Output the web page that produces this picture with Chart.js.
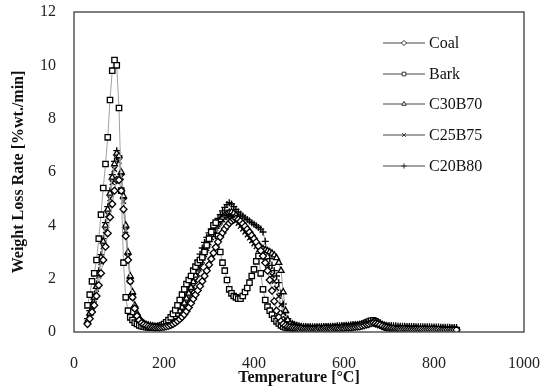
<!DOCTYPE html>
<html>
<head>
<meta charset="utf-8">
<script src="https://cdn.jsdelivr.net/npm/chart.js@4.4.0/dist/chart.umd.min.js"></script>
<style>
  html, body { margin: 0; padding: 0; background: #fff; }
  #wrap { width: 542px; height: 387px; }
</style>
</head>
<body>
<div id="wrap"><canvas id="dtgChart" width="542" height="387"></canvas></div>
<script>
// temperature points (°C)
const temps = [
  30, 35, 40, 45, 50, 55, 60, 65, 70, 75,
  80, 85, 90, 95, 100, 105, 110, 115, 120, 125,
  130, 135, 140, 145, 150, 155, 160, 165, 170, 175,
  180, 185, 190, 195, 200, 205, 210, 215, 220, 225,
  230, 235, 240, 245, 250, 255, 260, 265, 270, 275,
  280, 285, 290, 295, 300, 305, 310, 315, 320, 325,
  330, 335, 340, 345, 350, 355, 360, 365, 370, 375,
  380, 385, 390, 395, 400, 405, 410, 415, 420, 425,
  430, 435, 440, 445, 450, 455, 460, 465, 470, 475,
  480,
  485, 490, 495, 500, 505, 510, 515, 520, 525, 530,
  535, 540, 545, 550, 555, 560, 565, 570, 575, 580,
  585, 590, 595, 600, 605, 610, 615, 620, 625, 630,
  635, 640, 645, 650, 655, 660, 665, 670, 675, 680,
  685, 690, 695, 700, 705, 710, 715, 720, 725, 730,
  735, 740, 745, 750, 755, 760, 765, 770, 775, 780,
  785, 790, 795, 800, 805, 810, 815, 820, 825, 830,
  835, 840, 845, 850
];

const coal = [
  0.3, 0.5, 0.75, 1.0, 1.35, 1.75, 2.2, 2.7, 3.2, 3.7,
  4.3, 4.8, 5.3, 5.7, 5.7, 5.3, 4.6, 3.6, 2.7, 1.9,
  1.3, 0.88, 0.6, 0.44, 0.34, 0.28, 0.24, 0.21, 0.19, 0.18,
  0.17, 0.17, 0.17, 0.18, 0.19, 0.21, 0.23, 0.26, 0.3, 0.35,
  0.41, 0.48, 0.56, 0.66, 0.78, 0.92, 1.08, 1.24, 1.4, 1.56,
  1.72, 1.9, 2.1, 2.3, 2.52, 2.74, 2.96, 3.18, 3.38, 3.56,
  3.72, 3.86, 3.98, 4.08, 4.16, 4.22, 4.25, 4.22, 4.15, 4.06,
  3.96, 3.85, 3.74, 3.62, 3.5, 3.37, 3.22, 3.05, 2.85, 2.6,
  2.3, 1.95, 1.55, 1.15, 0.8, 0.55, 0.4, 0.3, 0.24, 0.2,
  0.18,
  0.16, 0.15, 0.14, 0.13, 0.13, 0.12, 0.12, 0.12, 0.12, 0.12,
  0.12, 0.12, 0.13, 0.12, 0.13, 0.13, 0.13, 0.13, 0.14, 0.14,
  0.14, 0.14, 0.15, 0.15, 0.16, 0.16, 0.17, 0.18, 0.19, 0.2,
  0.21, 0.23, 0.25, 0.28, 0.3, 0.33, 0.34, 0.32, 0.29, 0.26,
  0.22, 0.19, 0.17, 0.15, 0.14, 0.13, 0.12, 0.12, 0.11, 0.11,
  0.11, 0.1, 0.1, 0.1, 0.1, 0.1, 0.1, 0.1, 0.09, 0.09,
  0.09, 0.09, 0.09, 0.09, 0.09, 0.09, 0.08, 0.08, 0.08, 0.08,
  0.08, 0.08, 0.08, 0.08
];

const bark = [
  1.0, 1.4, 1.9, 2.2, 2.7, 3.5, 4.4, 5.4, 6.3, 7.3,
  8.7, 9.8, 10.2, 10.0, 8.4, 5.3, 2.6, 1.3, 0.8, 0.55,
  0.45, 0.35, 0.3, 0.25, 0.22, 0.2, 0.18, 0.17, 0.16, 0.16,
  0.17, 0.18, 0.2, 0.24, 0.3, 0.36, 0.45, 0.55, 0.68, 0.82,
  1.0, 1.2, 1.4, 1.6, 1.8, 1.95, 2.1, 2.3, 2.45, 2.6,
  2.7, 2.8, 3.0, 3.25, 3.5, 3.75, 4.0, 4.1, 3.6, 3.0,
  2.6, 2.3, 1.95, 1.6, 1.45, 1.35, 1.3, 1.25, 1.25, 1.35,
  1.5, 1.65, 1.85, 2.1, 2.35, 2.65, 2.85, 2.2, 1.6, 1.2,
  0.95, 0.8, 0.65, 0.5, 0.4, 0.32, 0.25, 0.2, 0.17, 0.15,
  0.14,
  0.14, 0.13, 0.13, 0.12, 0.12, 0.11, 0.12, 0.11, 0.12, 0.11,
  0.12, 0.12, 0.13, 0.12, 0.13, 0.12, 0.13, 0.13, 0.14, 0.14,
  0.15, 0.15, 0.16, 0.17, 0.18, 0.19, 0.2, 0.21, 0.22, 0.23,
  0.25, 0.28, 0.31, 0.35, 0.39, 0.42, 0.44, 0.4, 0.35, 0.3,
  0.25, 0.2, 0.17, 0.15, 0.13, 0.12, 0.12, 0.11, 0.11, 0.1,
  0.1, 0.1, 0.09, 0.09, 0.09, 0.09, 0.08, 0.08, 0.08, 0.08,
  0.08, 0.08, 0.07, 0.07, 0.07, 0.07, 0.07, 0.07, 0.06, 0.06,
  0.06, 0.06, 0.06, 0.06
];

const c30b70 = [
  0.4, 0.7, 1.0, 1.3, 1.7, 2.2, 2.8, 3.4, 4.0, 4.6,
  5.2, 5.8, 6.3, 6.7, 6.6, 6.0, 5.1, 4.0, 3.0, 2.1,
  1.5, 1.0, 0.7, 0.5, 0.4, 0.33, 0.28, 0.25, 0.23, 0.21,
  0.2, 0.2, 0.21, 0.22, 0.25, 0.28, 0.33, 0.39, 0.47, 0.56,
  0.66, 0.78, 0.92, 1.08, 1.26, 1.45, 1.66, 1.88, 2.12, 2.36,
  2.6, 2.84, 3.06, 3.27, 3.46, 3.64, 3.8, 3.95, 4.08, 4.2,
  4.3, 4.38, 4.44, 4.48, 4.5, 4.46, 4.38, 4.28, 4.16, 4.04,
  3.92, 3.8, 3.68, 3.56, 3.45, 3.35, 3.26, 3.18, 3.12, 3.08,
  3.04, 3.0, 2.95, 2.88, 2.78, 2.6, 2.3, 1.5, 0.8, 0.45,
  0.3,
  0.25, 0.22, 0.2, 0.18, 0.17, 0.16, 0.16, 0.15, 0.15, 0.15,
  0.15, 0.15, 0.15, 0.16, 0.16, 0.16, 0.17, 0.17, 0.17, 0.17,
  0.18, 0.18, 0.19, 0.19, 0.2, 0.21, 0.22, 0.23, 0.24, 0.25,
  0.26, 0.28, 0.3, 0.32, 0.35, 0.37, 0.36, 0.34, 0.31, 0.28,
  0.25, 0.22, 0.19, 0.18, 0.16, 0.15, 0.15, 0.14, 0.14, 0.14,
  0.14, 0.13, 0.13, 0.13, 0.13, 0.13, 0.12, 0.12, 0.12, 0.12,
  0.12, 0.12, 0.12, 0.11, 0.11, 0.11, 0.11, 0.11, 0.11, 0.1,
  0.1, 0.1, 0.1, 0.1
];

const c25b75 = [
  0.35, 0.6, 0.9, 1.2, 1.6, 2.1, 2.6, 3.2, 3.8, 4.4,
  5.0, 5.6, 6.1, 6.5, 6.4, 5.8, 4.9, 3.8, 2.8, 1.9,
  1.3, 0.9, 0.62, 0.46, 0.36, 0.3, 0.26, 0.23, 0.21, 0.2,
  0.19, 0.19, 0.2, 0.21, 0.23, 0.26, 0.3, 0.35, 0.41, 0.49,
  0.58, 0.68, 0.8, 0.94, 1.1, 1.28, 1.48, 1.7, 1.93, 2.17,
  2.42, 2.66, 2.9, 3.13, 3.34, 3.54, 3.72, 3.88, 4.02, 4.13,
  4.22, 4.29, 4.33, 4.35, 4.33, 4.27, 4.18, 4.08, 3.97, 3.86,
  3.75, 3.64, 3.53, 3.42, 3.31, 3.2, 3.08, 2.96, 2.82, 2.66,
  2.5, 2.32, 2.12, 1.9, 1.64, 1.34, 1.02, 0.72, 0.5, 0.36,
  0.28,
  0.32, 0.27, 0.23, 0.2, 0.18, 0.17, 0.16, 0.15, 0.15, 0.14,
  0.14, 0.14, 0.14, 0.14, 0.15, 0.15, 0.15, 0.15, 0.16, 0.16,
  0.16, 0.17, 0.17, 0.18, 0.18, 0.19, 0.2, 0.21, 0.22, 0.23,
  0.25, 0.27, 0.3, 0.33, 0.36, 0.39, 0.39, 0.37, 0.33, 0.3,
  0.26, 0.22, 0.19, 0.17, 0.15, 0.14, 0.14, 0.13, 0.13, 0.13,
  0.13, 0.13, 0.12, 0.12, 0.12, 0.12, 0.12, 0.12, 0.12, 0.11,
  0.11, 0.11, 0.11, 0.11, 0.11, 0.1, 0.1, 0.1, 0.1, 0.1,
  0.1, 0.1, 0.09, 0.09
];

const c20b80 = [
  0.5, 0.8, 1.1, 1.4, 1.8, 2.3, 2.9, 3.5, 4.1, 4.7,
  5.3, 5.9, 6.4, 6.8, 6.6, 5.9, 5.0, 3.9, 2.9, 2.0,
  1.4, 0.95, 0.65, 0.48, 0.38, 0.32, 0.28, 0.25, 0.23, 0.22,
  0.21, 0.21, 0.22, 0.24, 0.27, 0.31, 0.37, 0.44, 0.53, 0.63,
  0.75, 0.89, 1.05, 1.23, 1.43, 1.65, 1.89, 2.15, 2.42, 2.68,
  2.92, 3.15, 3.36, 3.55, 3.72, 3.87, 4.0, 4.13, 4.26, 4.4,
  4.54, 4.67, 4.78, 4.85, 4.8, 4.7, 4.6, 4.5, 4.42, 4.35,
  4.28, 4.22, 4.16, 4.1, 4.04, 3.98, 3.92, 3.86, 3.75, 3.4,
  3.05, 2.75, 2.5, 2.3, 2.1, 1.85, 1.45, 1.05, 0.72, 0.5,
  0.38,
  0.33, 0.28, 0.25, 0.23, 0.22, 0.21, 0.21, 0.2, 0.2, 0.2,
  0.2, 0.2, 0.2, 0.21, 0.21, 0.21, 0.21, 0.22, 0.22, 0.22,
  0.23, 0.23, 0.24, 0.24, 0.25, 0.25, 0.26, 0.27, 0.27, 0.28,
  0.29, 0.3, 0.31, 0.33, 0.35, 0.36, 0.35, 0.34, 0.32, 0.3,
  0.28, 0.26, 0.25, 0.24, 0.24, 0.23, 0.23, 0.22, 0.22, 0.22,
  0.22, 0.21, 0.21, 0.21, 0.21, 0.2, 0.2, 0.2, 0.2, 0.2,
  0.2, 0.2, 0.19, 0.19, 0.19, 0.19, 0.18, 0.18, 0.18, 0.18,
  0.18, 0.17, 0.17, 0.17
];

const seriesNames = ['Coal', 'Bark', 'C30B70', 'C25B75', 'C20B80'];
const seriesValues = [coal, bark, c30b70, c25b75, c20b80];
const markerStyles = ['rectRot', 'rect', 'triangle', 'crossRot', 'cross'];
const xTicks = [0, 200, 400, 600, 800, 1000];
const yTicks = [0, 2, 4, 6, 8, 10, 12];

const serif = "'Liberation Serif', 'Times New Roman', serif";

const datasets = seriesNames.map((name, i) => ({
  label: name,
  data: temps.map((t, k) => ({ x: t, y: seriesValues[i][k] })),
  showLine: true,
  borderColor: '#a0a0a0',
  borderWidth: 1,
  pointStyle: markerStyles[i],
  pointRadius: markerStyles[i] === 'rect' ? 3.8 : 3.5,
  pointBorderColor: '#000',
  pointBackgroundColor: '#ffffff',
  pointBorderWidth: 1.3,
  tension: 0
}));

// box round the plot area
const frameBox = {
  id: 'frameBox',
  afterDraw(chart) {
    const a = chart.chartArea;
    const ctx = chart.ctx;
    ctx.save();
    ctx.strokeStyle = '#555';
    ctx.lineWidth = 1.5;
    ctx.strokeRect(a.left, a.top, a.right - a.left, a.bottom - a.top);
    ctx.restore();
  }
};

// legend drawn inside the plot: line + marker + name
const sideLegend = {
  id: 'sideLegend',
  afterDraw(chart) {
    const ctx = chart.ctx;
    const x0 = 383, x1 = 425, tx = 429;
    const rows = [43, 74, 104, 135, 166];
    ctx.save();
    chart.data.datasets.forEach((ds, i) => {
      const y = rows[i];
      ctx.strokeStyle = '#444';
      ctx.lineWidth = 1;
      ctx.beginPath();
      ctx.moveTo(x0, y);
      ctx.lineTo(x1, y);
      ctx.stroke();
      ctx.fillStyle = '#fff';
      ctx.strokeStyle = '#333';
      Chart.helpers.drawPoint(ctx, {
        pointStyle: ds.pointStyle, radius: 2.6, borderWidth: 1, rotation: 0
      }, (x0 + x1) / 2, y);
      ctx.fillStyle = '#111';
      ctx.font = '16px ' + serif;
      ctx.textBaseline = 'middle';
      ctx.textAlign = 'left';
      ctx.fillText(ds.label, tx, y + 1);
    });
    ctx.restore();
  }
};

// keep the plot box where the reference has it (no extra room for end labels)
const noEdgePad = s => {
  s.paddingTop = 0; s.paddingBottom = 0; s.paddingLeft = 0; s.paddingRight = 0;
};

new Chart(document.getElementById('dtgChart').getContext('2d'), {
  type: 'scatter',
  data: { datasets: datasets },
  options: {
    responsive: false,
    animation: false,
    devicePixelRatio: 1,
    layout: { padding: { top: 12, right: 18, left: 0, bottom: 0 } },
    plugins: { legend: { display: false }, tooltip: { enabled: false } },
    scales: {
      x: {
        type: 'linear',
        min: 0, max: 1000,
        afterBuildTicks: s => { s.ticks = xTicks.map(v => ({ value: v })); },
        afterFit: s => { s.height = 55; noEdgePad(s); },
        grid: { display: false, drawTicks: false },
        border: { display: false },
        ticks: { color: '#222', font: { family: serif, size: 16 }, padding: 22, maxRotation: 0, callback: v => String(v) },
        title: {
          display: true, text: 'Temperature [°C]', color: '#111',
          font: { family: serif, size: 16, weight: 'bold' }, padding: { top: 0, bottom: 0 }
        }
      },
      y: {
        min: 0, max: 12,
        afterBuildTicks: s => { s.ticks = yTicks.map(v => ({ value: v })); },
        afterFit: s => { s.width = 74; noEdgePad(s); },
        grid: { display: false, drawTicks: false },
        border: { display: false },
        ticks: { color: '#222', font: { family: serif, size: 16 }, padding: 18, callback: v => String(v) },
        title: {
          display: true, text: 'Weight Loss Rate [%wt./min]', color: '#111',
          font: { family: serif, size: 16, weight: 'bold' }, padding: { top: 9, bottom: 0 }
        }
      }
    }
  },
  plugins: [frameBox, sideLegend]
});
</script>
</body>
</html>
